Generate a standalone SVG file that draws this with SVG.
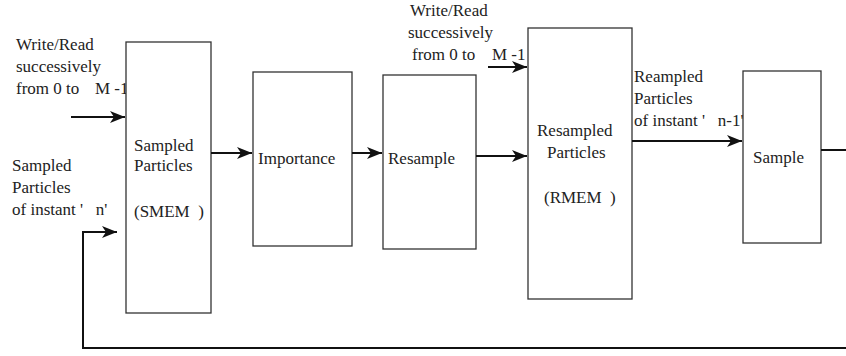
<svg xmlns="http://www.w3.org/2000/svg" width="846" height="356" viewBox="0 0 846 356">
<defs>
<style>
.box{fill:#fff;stroke:#333;stroke-width:1.3}
.ln{fill:none;stroke:#111;stroke-width:2}
text{font-family:"Liberation Serif","Times New Roman",serif;font-size:17px;fill:#222}
</style>
<marker id="ah" markerUnits="userSpaceOnUse" markerWidth="16" markerHeight="12" refX="15" refY="6" orient="auto" viewBox="0 0 16 12">
<path d="M0,0 L15,6 L0,12 L4,6 z" fill="#111"/>
</marker>
</defs>
<rect width="846" height="356" fill="#fff"/>
<g id="labels">
<text x="16" y="50">Write/Read</text>
<text x="16" y="72">successively</text>
<text x="16" y="94">from 0 to</text>
<text x="95" y="94">M -1</text>
<text x="12" y="171">Sampled</text>
<text x="12" y="193">Particles</text>
<text x="12" y="215" xml:space="preserve">of instant '   n'</text>
<text x="410" y="16">Write/Read</text>
<text x="408" y="38">successively</text>
<text x="412" y="60">from 0 to</text>
<text x="492" y="60">M -1</text>
<text x="634" y="82">Reampled</text>
<text x="634" y="104">Particles</text>
<text x="634" y="126" xml:space="preserve">of instant '   n-1'</text>
</g>
<g id="smem">
<rect class="box" x="126" y="42" width="85" height="271"/>
<text x="134" y="151">Sampled</text>
<text x="134" y="171">Particles</text>
<text x="134" y="217" xml:space="preserve">(SMEM  )</text>
</g>
<g id="importance">
<rect class="box" x="253" y="72" width="99" height="174"/>
<text x="258" y="164">Importance</text>
</g>
<g id="resample">
<rect class="box" x="383" y="75" width="93" height="174"/>
<text x="388" y="164">Resample</text>
</g>
<g id="rmem">
<rect class="box" x="528" y="28" width="104" height="271"/>
<text x="537" y="136">Resampled</text>
<text x="547" y="158">Particles</text>
<text x="544" y="203" xml:space="preserve">(RMEM  )</text>
</g>
<g id="sample">
<rect class="box" x="743" y="71" width="78" height="172"/>
<text x="753" y="163">Sample</text>
</g>
<g id="connectors">
<line class="ln" x1="71" y1="117" x2="125" y2="117" marker-end="url(#ah)"/>
<line class="ln" x1="211" y1="153" x2="252" y2="153" marker-end="url(#ah)"/>
<line class="ln" x1="352" y1="153" x2="382" y2="153" marker-end="url(#ah)"/>
<line class="ln" x1="476" y1="156" x2="527" y2="156" marker-end="url(#ah)"/>
<line class="ln" x1="488" y1="67" x2="527" y2="67" marker-end="url(#ah)"/>
<line class="ln" x1="632" y1="141" x2="742" y2="141" marker-end="url(#ah)"/>
<path class="ln" d="M821,150 H850 V348 H83 V232 H117" marker-end="url(#ah)"/>
</g>
</svg>
